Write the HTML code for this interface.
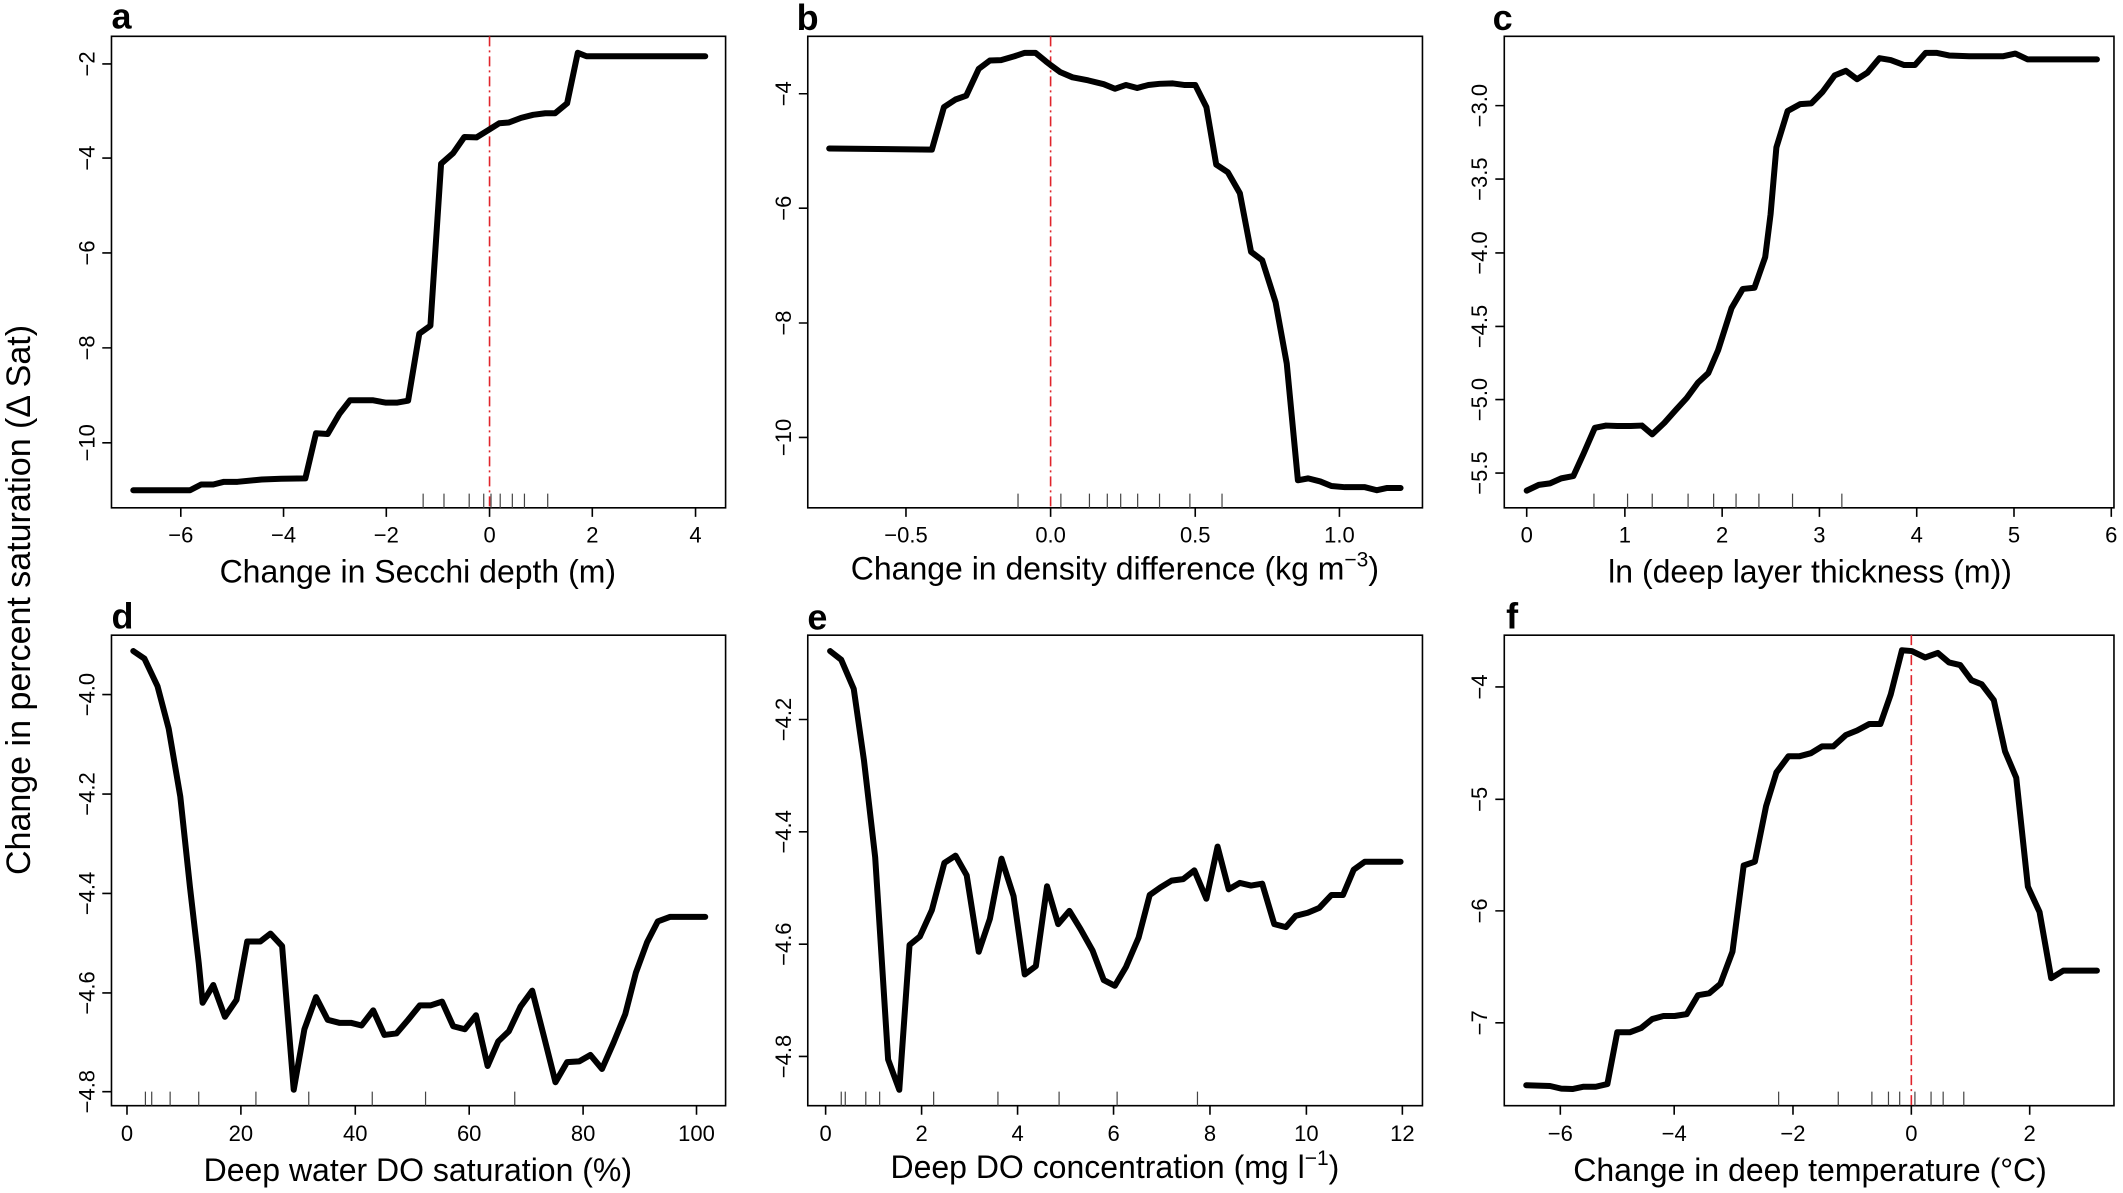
<!DOCTYPE html>
<html><head><meta charset="utf-8"><style>
html,body{margin:0;padding:0;background:#fff}
svg{display:block}
.box{fill:none;stroke:#000;stroke-width:1.6}
.tk{fill:none;stroke:#000;stroke-width:1.6}
.rug{fill:none;stroke:#444;stroke-width:1.2}
.cv{fill:none;stroke:#000;stroke-width:6;stroke-linejoin:round;stroke-linecap:round}
.rd{stroke:#e0242b;stroke-width:1.6;stroke-dasharray:10 4 2 4}
.box,.tk,.rug,.cv,.rd{vector-effect:non-scaling-stroke}
text{font-family:"Liberation Sans",sans-serif;fill:#000}
.t{font-size:22px;text-anchor:middle}
.ti{font-size:32px;text-anchor:middle}
.gy{font-size:34px;text-anchor:middle}
.L{font-size:36px;font-weight:bold}
</style></head><body>
<svg width="2123" height="1193" viewBox="0 0 2123 1193" xmlns="http://www.w3.org/2000/svg">
<text class="gy" transform="translate(30,600) rotate(-90)">Change in percent saturation (Δ Sat)</text>

<!-- a -->
<g transform="translate(0,0) scale(0.4847,0.3827)">
<rect class="box" x="230" y="95" width="1267" height="1232"/>
<path class="tk" d="M373 1327v23.5M585 1327v23.5M797 1327v23.5M1010 1327v23.5M1222 1327v23.5M1435 1327v23.5M230 167h-19M230 413h-19M230 661h-19M230 909h-19M230 1157h-19"/>
<path class="rug" d="M873 1290V1327M916 1290V1327M968 1290V1327M998 1290V1327M1013 1290V1327M1032 1290V1327M1057 1290V1327M1082 1290V1327M1130 1290V1327"/>
<line class="rd" x1="1010" y1="95" x2="1010" y2="1327"/>
<polyline class="cv" points="275,1281 392,1281 415,1266 440,1266 462,1259 490,1259 540,1253 580,1251 630,1250 652,1132 676,1134 700,1082 722,1046 770,1046 795,1052 820,1052 842,1047 865,872 888,851 910,428 935,400 958,358 983,359 1010,338 1030,322 1050,320 1075,308 1100,300 1125,296 1145,296 1170,270 1192,138 1210,147 1455,147"/>
<text class="t" transform="translate(373,1418) scale(2.063,2.613)">−6</text>
<text class="t" transform="translate(585,1418) scale(2.063,2.613)">−4</text>
<text class="t" transform="translate(797,1418) scale(2.063,2.613)">−2</text>
<text class="t" transform="translate(1010,1418) scale(2.063,2.613)">0</text>
<text class="t" transform="translate(1222,1418) scale(2.063,2.613)">2</text>
<text class="t" transform="translate(1435,1418) scale(2.063,2.613)">4</text>
<text class="t" transform="translate(195,167) scale(2.063,2.613) rotate(-90)">−2</text>
<text class="t" transform="translate(195,413) scale(2.063,2.613) rotate(-90)">−4</text>
<text class="t" transform="translate(195,661) scale(2.063,2.613) rotate(-90)">−6</text>
<text class="t" transform="translate(195,909) scale(2.063,2.613) rotate(-90)">−8</text>
<text class="t" transform="translate(195,1157) scale(2.063,2.613) rotate(-90)">−10</text>
<text class="ti" transform="translate(862,1522) scale(2.063,2.613)">Change in Secchi depth (m)</text>
<text class="L" transform="translate(230,75) scale(2.063,2.613)">a</text>
</g>

<!-- b -->
<g transform="translate(760,0) scale(0.4464,0.3827)">
<rect class="box" x="107" y="95" width="1377" height="1232"/>
<path class="tk" d="M327 1327v23.5M651 1327v23.5M975 1327v23.5M1298 1327v23.5M107 245h-20M107 544h-20M107 844h-20M107 1143h-20"/>
<path class="rug" d="M578 1290V1327M674 1290V1327M738 1290V1327M778 1290V1327M808 1290V1327M846 1290V1327M895 1290V1327M963 1290V1327M1035 1290V1327"/>
<line class="rd" x1="651" y1="95" x2="651" y2="1327"/>
<polyline class="cv" points="155,388 385,391 412,280 438,260 462,250 490,180 515,158 540,157 570,147 593,138 617,138 640,160 651,170 672,188 700,202 735,210 770,220 795,232 820,222 845,230 870,222 895,219 925,218 950,222 975,222 1000,280 1022,430 1048,450 1075,505 1100,658 1125,680 1155,790 1180,950 1205,1255 1228,1250 1255,1258 1280,1270 1310,1273 1355,1273 1382,1281 1405,1275 1435,1275"/>
<text class="t" transform="translate(327,1418) scale(2.240,2.613)">−0.5</text>
<text class="t" transform="translate(651,1418) scale(2.240,2.613)">0.0</text>
<text class="t" transform="translate(975,1418) scale(2.240,2.613)">0.5</text>
<text class="t" transform="translate(1298,1418) scale(2.240,2.613)">1.0</text>
<text class="t" transform="translate(69,245) scale(2.240,2.613) rotate(-90)">−4</text>
<text class="t" transform="translate(69,544) scale(2.240,2.613) rotate(-90)">−6</text>
<text class="t" transform="translate(69,844) scale(2.240,2.613) rotate(-90)">−8</text>
<text class="t" transform="translate(69,1143) scale(2.240,2.613) rotate(-90)">−10</text>
<text class="ti" transform="translate(795,1514) scale(2.240,2.613)">Change in density difference (kg m<tspan font-size="21" dy="-13">−3</tspan><tspan dy="13">)</tspan></text>
<text class="L" transform="translate(82,78) scale(2.240,2.613)">b</text>
</g>

<!-- c -->
<g transform="translate(1420,0) scale(0.4483,0.3827)">
<rect class="box" x="188" y="95" width="1360" height="1232"/>
<path class="tk" d="M238 1327v23.5M457 1327v23.5M674 1327v23.5M891 1327v23.5M1108 1327v23.5M1325 1327v23.5M1542 1327v23.5M188 276h-20M188 468h-20M188 661h-20M188 853h-20M188 1044h-20M188 1236h-20"/>
<path class="rug" d="M388 1290V1327M463 1290V1327M518 1290V1327M598 1290V1327M655 1290V1327M705 1290V1327M756 1290V1327M831 1290V1327M941 1290V1327"/>
<polyline class="cv" points="238,1282 265,1267 290,1263 315,1250 342,1244 365,1185 390,1118 415,1112 440,1113 470,1113 495,1112 518,1135 545,1105 570,1072 595,1040 620,1000 643,975 665,915 695,805 720,755 746,752 770,672 782,560 795,385 820,290 848,272 873,270 898,240 925,197 950,185 975,207 998,190 1025,152 1050,157 1080,170 1104,170 1128,138 1152,138 1180,145 1225,147 1300,147 1328,140 1355,155 1510,155"/>
<text class="t" transform="translate(238,1418) scale(2.231,2.613)">0</text>
<text class="t" transform="translate(457,1418) scale(2.231,2.613)">1</text>
<text class="t" transform="translate(674,1418) scale(2.231,2.613)">2</text>
<text class="t" transform="translate(891,1418) scale(2.231,2.613)">3</text>
<text class="t" transform="translate(1108,1418) scale(2.231,2.613)">4</text>
<text class="t" transform="translate(1325,1418) scale(2.231,2.613)">5</text>
<text class="t" transform="translate(1542,1418) scale(2.231,2.613)">6</text>
<text class="t" transform="translate(150,276) scale(2.231,2.613) rotate(-90)">−3.0</text>
<text class="t" transform="translate(150,468) scale(2.231,2.613) rotate(-90)">−3.5</text>
<text class="t" transform="translate(150,661) scale(2.231,2.613) rotate(-90)">−4.0</text>
<text class="t" transform="translate(150,853) scale(2.231,2.613) rotate(-90)">−4.5</text>
<text class="t" transform="translate(150,1044) scale(2.231,2.613) rotate(-90)">−5.0</text>
<text class="t" transform="translate(150,1236) scale(2.231,2.613) rotate(-90)">−5.5</text>
<text class="ti" transform="translate(870,1522) scale(2.231,2.613)">ln (deep layer thickness (m))</text>
<text class="L" transform="translate(162,78) scale(2.231,2.613)">c</text>
</g>

<!-- d -->
<g transform="translate(0,600) scale(0.4847,0.3782)">
<rect class="box" x="230" y="93" width="1267" height="1244"/>
<path class="tk" d="M262 1337v24M497 1337v24M733 1337v24M968 1337v24M1203 1337v24M1437 1337v24M230 250h-19M230 513h-19M230 776h-19M230 1039h-19M230 1300h-19"/>
<path class="rug" d="M300 1300V1337M313 1300V1337M351 1300V1337M410 1300V1337M528 1300V1337M637 1300V1337M768 1300V1337M878 1300V1337M1062 1300V1337"/>
<polyline class="cv" points="275,135 298,155 325,228 348,340 372,520 392,760 410,960 418,1065 440,1018 464,1102 488,1057 510,903 537,903 558,882 582,915 606,1295 628,1135 652,1050 676,1110 700,1118 724,1118 746,1125 770,1085 793,1150 818,1146 842,1110 866,1072 888,1072 912,1062 935,1127 959,1135 982,1098 1006,1232 1028,1167 1050,1140 1074,1075 1098,1033 1122,1153 1146,1275 1170,1222 1195,1220 1218,1203 1242,1240 1266,1170 1290,1095 1312,985 1335,905 1357,850 1382,838 1455,838"/>
<text class="t" transform="translate(262,1431) scale(2.063,2.644)">0</text>
<text class="t" transform="translate(497,1431) scale(2.063,2.644)">20</text>
<text class="t" transform="translate(733,1431) scale(2.063,2.644)">40</text>
<text class="t" transform="translate(968,1431) scale(2.063,2.644)">60</text>
<text class="t" transform="translate(1203,1431) scale(2.063,2.644)">80</text>
<text class="t" transform="translate(1437,1431) scale(2.063,2.644)">100</text>
<text class="t" transform="translate(195,250) scale(2.063,2.644) rotate(-90)">−4.0</text>
<text class="t" transform="translate(195,513) scale(2.063,2.644) rotate(-90)">−4.2</text>
<text class="t" transform="translate(195,776) scale(2.063,2.644) rotate(-90)">−4.4</text>
<text class="t" transform="translate(195,1039) scale(2.063,2.644) rotate(-90)">−4.6</text>
<text class="t" transform="translate(195,1300) scale(2.063,2.644) rotate(-90)">−4.8</text>
<text class="ti" transform="translate(862,1536) scale(2.063,2.644)">Deep water DO saturation (%)</text>
<text class="L" transform="translate(230,75) scale(2.063,2.644)">d</text>
</g>

<!-- e -->
<g transform="translate(760,600) scale(0.4464,0.3782)">
<rect class="box" x="107" y="93" width="1377" height="1244"/>
<path class="tk" d="M147 1337v24M362 1337v24M577 1337v24M792 1337v24M1008 1337v24M1224 1337v24M1439 1337v24M107 316h-20M107 613h-20M107 910h-20M107 1207h-20"/>
<path class="rug" d="M182 1300V1337M191 1300V1337M237 1300V1337M268 1300V1337M389 1300V1337M533 1300V1337M670 1300V1337M800 1300V1337M980 1300V1337"/>
<polyline class="cv" points="157,135 182,158 210,235 233,425 258,680 270,900 287,1215 312,1295 335,912 358,890 385,820 413,695 438,676 463,728 490,930 515,843 541,684 568,783 593,990 618,968 643,757 668,857 693,822 718,870 745,927 770,1005 795,1020 820,970 848,893 873,780 897,760 922,742 948,738 973,715 1000,790 1025,652 1050,765 1075,748 1100,755 1125,750 1152,857 1178,865 1200,835 1227,827 1253,814 1280,780 1306,780 1330,713 1355,692 1435,692"/>
<text class="t" transform="translate(147,1431) scale(2.240,2.644)">0</text>
<text class="t" transform="translate(362,1431) scale(2.240,2.644)">2</text>
<text class="t" transform="translate(577,1431) scale(2.240,2.644)">4</text>
<text class="t" transform="translate(792,1431) scale(2.240,2.644)">6</text>
<text class="t" transform="translate(1008,1431) scale(2.240,2.644)">8</text>
<text class="t" transform="translate(1224,1431) scale(2.240,2.644)">10</text>
<text class="t" transform="translate(1439,1431) scale(2.240,2.644)">12</text>
<text class="t" transform="translate(69,316) scale(2.240,2.644) rotate(-90)">−4.2</text>
<text class="t" transform="translate(69,613) scale(2.240,2.644) rotate(-90)">−4.4</text>
<text class="t" transform="translate(69,910) scale(2.240,2.644) rotate(-90)">−4.6</text>
<text class="t" transform="translate(69,1207) scale(2.240,2.644) rotate(-90)">−4.8</text>
<text class="ti" transform="translate(795,1528) scale(2.240,2.644)">Deep DO concentration (mg l<tspan font-size="21" dy="-13">−1</tspan><tspan dy="13">)</tspan></text>
<text class="L" transform="translate(106,78) scale(2.240,2.644)">e</text>
</g>

<!-- f -->
<g transform="translate(1420,600) scale(0.4483,0.3782)">
<rect class="box" x="188" y="93" width="1360" height="1244"/>
<path class="tk" d="M313 1337v24M567 1337v24M832 1337v24M1096 1337v24M1360 1337v24M188 230h-20M188 527h-20M188 822h-20M188 1118h-20"/>
<path class="rug" d="M800 1300V1337M933 1300V1337M1008 1300V1337M1045 1300V1337M1070 1300V1337M1104 1300V1337M1140 1300V1337M1167 1300V1337M1213 1300V1337"/>
<line class="rd" x1="1096" y1="93" x2="1096" y2="1337"/>
<polyline class="cv" points="237,1283 290,1285 315,1292 340,1293 365,1287 392,1287 418,1280 440,1143 468,1143 493,1132 518,1108 543,1100 568,1100 595,1095 620,1045 645,1040 670,1015 697,930 722,702 747,692 772,545 795,456 822,413 847,413 872,405 897,387 922,387 950,357 975,345 1002,328 1027,328 1050,250 1075,133 1097,135 1127,152 1155,140 1180,165 1205,172 1230,212 1253,223 1280,265 1305,400 1330,470 1356,758 1382,825 1408,1000 1435,980 1510,980"/>
<text class="t" transform="translate(313,1431) scale(2.231,2.644)">−6</text>
<text class="t" transform="translate(567,1431) scale(2.231,2.644)">−4</text>
<text class="t" transform="translate(832,1431) scale(2.231,2.644)">−2</text>
<text class="t" transform="translate(1096,1431) scale(2.231,2.644)">0</text>
<text class="t" transform="translate(1360,1431) scale(2.231,2.644)">2</text>
<text class="t" transform="translate(150,230) scale(2.231,2.644) rotate(-90)">−4</text>
<text class="t" transform="translate(150,527) scale(2.231,2.644) rotate(-90)">−5</text>
<text class="t" transform="translate(150,822) scale(2.231,2.644) rotate(-90)">−6</text>
<text class="t" transform="translate(150,1118) scale(2.231,2.644) rotate(-90)">−7</text>
<text class="ti" transform="translate(870,1536) scale(2.231,2.644)">Change in deep temperature (°C)</text>
<text class="L" transform="translate(192,75) scale(2.231,2.644)">f</text>
</g>
</svg>
</body></html>
